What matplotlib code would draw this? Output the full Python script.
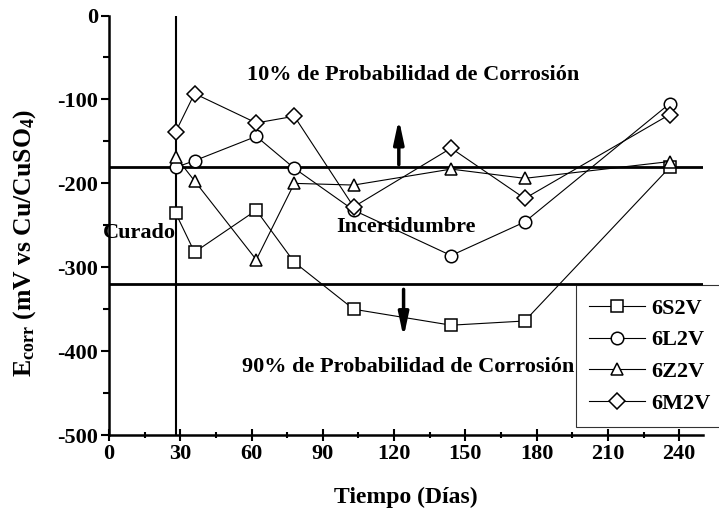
import matplotlib
matplotlib.use("Agg")
import matplotlib.pyplot as plt
from matplotlib.ticker import MultipleLocator

plt.rcParams["font.family"] = ["Liberation Serif", "DejaVu Serif"]
plt.rcParams["font.weight"] = "bold"
plt.rcParams["axes.unicode_minus"] = False
plt.rcParams["mathtext.fontset"] = "custom"
plt.rcParams["mathtext.rm"] = "Liberation Serif:bold"
plt.rcParams["mathtext.it"] = "Liberation Serif:bold"
plt.rcParams["mathtext.bf"] = "Liberation Serif:bold"

# Ecorr readings (mV vs Cu/CuSO4) per specimen
dias = [28, 36, 62, 78, 103, 144, 175, 236]
s2v = [-235, -282, -232, -294, -350, -369, -364, -181]
l2v = [-181, -173, -144, -182, -232, -286, -246, -105]
z2v = [-168, -197, -291, -200, -202, -183, -194, -174]
m2v = [-139, -93, -128, -120, -228, -158, -218, -118]

series = [("6S2V", s2v, "s"), ("6L2V", l2v, "o"), ("6Z2V", z2v, "^"), ("6M2V", m2v, "D")]

limite_10 = -180
limite_90 = -320
curado = 28

fig = plt.figure(figsize=(7.19, 5.18), dpi=100)
ax = fig.add_axes([0.1516, 0.160, 0.826, 0.810])

for name, vals, mk in series:
    ms = 9 if mk != "D" else 8
    ax.plot(dias, vals, color="black", lw=0.8, marker=mk, markersize=ms,
            markerfacecolor="white", markeredgecolor="black", markeredgewidth=1.1,
            label=name, zorder=3)

ax.axhline(limite_10, color="black", lw=2, zorder=2)
ax.axhline(limite_90, color="black", lw=2, zorder=2)
ax.axvline(curado, color="black", lw=1.5, zorder=2)

ax.annotate("", xy=(122, -120), xytext=(122, -181),
            arrowprops=dict(arrowstyle="-|>,head_width=0.3,head_length=1.4", color="black", lw=2.5))
ax.annotate("", xy=(124, -387), xytext=(124, -323),
            arrowprops=dict(arrowstyle="-|>,head_width=0.3,head_length=1.4", color="black", lw=2.5))

fs = 16
ax.text(128, -71, "10% de Probabilidad de Corrosión", ha="center", va="center", fontsize=fs, fontweight="bold")
ax.text(125, -252, "Incertidumbre", ha="center", va="center", fontsize=fs, fontweight="bold")
ax.text(126, -419, "90% de Probabilidad de Corrosión", ha="center", va="center", fontsize=fs, fontweight="bold")
ax.text(curado, -259, "Curado", ha="right", va="center", fontsize=fs, fontweight="bold")

ax.set_xlim(0, 250)
ax.set_ylim(-500, 0)
ax.xaxis.set_major_locator(MultipleLocator(30))
ax.xaxis.set_minor_locator(MultipleLocator(15))
ax.yaxis.set_major_locator(MultipleLocator(100))
ax.yaxis.set_minor_locator(MultipleLocator(50))
ax.set_xticks(range(0, 241, 30))

for s in ["top", "right"]:
    ax.spines[s].set_visible(False)
for s in ["left", "bottom"]:
    ax.spines[s].set_linewidth(1.8)

ax.tick_params(axis="x", which="major", direction="inout", length=9, width=1.5, labelsize=16, pad=2)
ax.tick_params(axis="x", which="minor", direction="inout", length=5, width=1.5)
ax.tick_params(axis="y", which="major", direction="out", length=6, width=1.5, labelsize=16, pad=2)
ax.tick_params(axis="y", which="minor", direction="out", length=4, width=1.5)
for lab in ax.get_xticklabels() + ax.get_yticklabels():
    lab.set_fontweight("bold")

ax.set_xlabel("Tiempo (Días)", fontsize=17, fontweight="bold", labelpad=16)
ax.set_ylabel(r"E$_{\rm corr}$ (mV vs Cu/CuSO$_4$)", fontsize=18.5, fontweight="bold")
ax.yaxis.set_label_coords(-0.12, 0.458)

leg = ax.legend(loc="lower left", bbox_to_anchor=(0.786, 0.019), frameon=True, fancybox=False,
                edgecolor="black", handlelength=2.5, handletextpad=0.3, borderpad=0.6,
                labelspacing=0.5, borderaxespad=0, prop=dict(weight="bold", size=16))
leg.get_frame().set_linewidth(0.8)

fig.savefig("out.png", dpi=100)
